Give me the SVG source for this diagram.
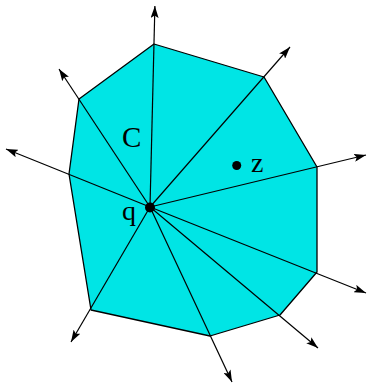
<svg xmlns="http://www.w3.org/2000/svg" width="367" height="383" viewBox="0 0 367 383">
<defs>
<style>
.poly{fill:#00e5e5;stroke:#000;stroke-width:1.3;stroke-linejoin:round}
.ray{stroke:#000;stroke-width:1.2;fill:none;marker-end:url(#ah)}
.lbl{font-family:"Liberation Serif","Times New Roman",serif;fill:#000}
</style>
<marker id="ah" viewBox="0 0 12 8" refX="12" refY="4" markerWidth="12" markerHeight="8" markerUnits="userSpaceOnUse" orient="auto">
<path d="M0,0 L12,4 L0,8 L2.5,4 Z" fill="#000"/>
</marker>
</defs>
<g id="region-C">
<polygon class="poly" points="154,44 264,77 317,167 317,272 280,315 210,336 91,310 69,174 79,99"/>
</g>
<g id="connectors">
<line class="ray" x1="150" y1="207" x2="154.9" y2="6"/>
<line class="ray" x1="150" y1="207" x2="59" y2="69"/>
<line class="ray" x1="150" y1="207" x2="6" y2="149"/>
<line class="ray" x1="150" y1="207" x2="290" y2="47"/>
<line class="ray" x1="150" y1="207" x2="366" y2="155"/>
<line class="ray" x1="150" y1="207" x2="366" y2="293"/>
<line class="ray" x1="150" y1="207" x2="318" y2="348"/>
<line class="ray" x1="150" y1="207" x2="232" y2="382"/>
<line class="ray" x1="150" y1="207" x2="71" y2="342"/>
</g>
<g id="label-C">
<text class="lbl" x="122" y="147" font-size="29">C</text>
</g>
<g id="point-q">
<circle cx="150" cy="207.5" r="5" fill="#000"/>
<text class="lbl" x="122" y="220" font-size="28">q</text>
</g>
<g id="point-z">
<circle cx="236.7" cy="165.5" r="4.5" fill="#000"/>
<text class="lbl" x="251" y="171.5" font-size="28">z</text>
</g>
</svg>
